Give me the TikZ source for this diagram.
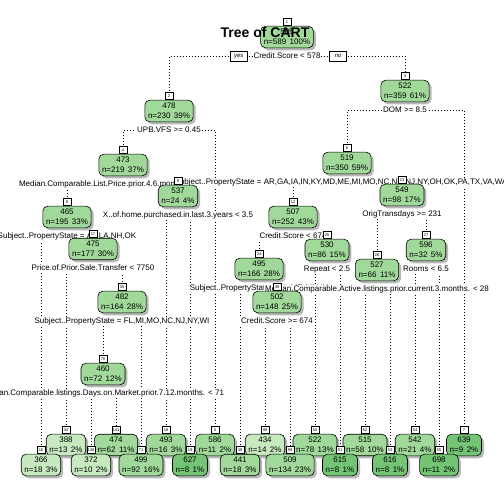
\documentclass[tikz,border=0pt]{standalone}
\usepackage{fontspec}
\setmainfont{Liberation Sans}
\usetikzlibrary{positioning,shadows}
\pgfdeclarelayer{branches}
\pgfdeclarelayer{splits}
\pgfsetlayers{branches,splits,main}
\definecolor{glow}{HTML}{C7E9C0}
\definecolor{gmid}{HTML}{A1D99B}
\definecolor{ghigh}{HTML}{74C476}

\begin{document}
\begin{tikzpicture}[x=1pt,y=-1pt,
         nodebox/.style = {draw,line width=0.6pt,rounded corners=5pt,align=center,
            font=\fontsize{8}{10}\selectfont,inner xsep=3.2pt,inner ysep=3pt,
            drop shadow={shadow xshift=2.5pt,shadow yshift=-2.5pt,fill=black!28,opacity=1}},
         split/.style = {fill=white,inner sep=0.8pt,text height=6pt,text depth=1.5pt,
            font=\fontsize{8}{9}\selectfont},
         numlab/.style = {draw,fill=white,line width=0.5pt,inner sep=0.8pt,
            minimum width=8pt,minimum height=7pt,font=\fontsize{4}{4}\selectfont},
         yesno/.style = {draw,fill=white,line width=0.5pt,minimum width=17pt,
            minimum height=10.5pt,inner sep=1pt,font=\fontsize{6}{6}\selectfont\itshape},
         branch/.style = {line width=0.8pt,dash pattern=on 0.8pt off 2.2pt}
]
         \useasboundingbox (0,0) rectangle (504,504);

         % internal nodes
         \foreach \k/\x/\y/\v/\n/\p/\c in {1/287/37/505/589/100/gmid,
            2/169/111/478/230/39/gmid, 3/405/91/522/359/61/gmid,
            4/123/165/473/219/37/gmid, 9/178/196/537/24/4/gmid,
            8/67/217/465/195/33/gmid, 17/93/249/475/177/30/gmid,
            35/122/302/482/164/28/gmid, 70/103/374/460/72/12/gmid,
            6/347/163/519/350/59/gmid, 13/402/195/549/98/17/gmid,
            12/293/217/507/252/43/gmid, 25/327/250/530/86/15/gmid,
            27/426/250/596/32/5/gmid, 24/259/269/495/166/28/gmid,
            26/377/270/527/66/11/gmid, 49/277/302/502/148/25/gmid}
            \node[nodebox,fill=\c] (n\k) at (\x,\y) {\v\\n=\n\hspace{3.5pt}\p\%};

         % leaves, upper row then lower row
         \foreach \k/\x/\y/\v/\n/\p/\c in {34/66/445/388/13/2/glow,
            141/116/445/474/62/11/gmid, 18/166/445/493/16/3/gmid,
            5/215/445/586/11/2/gmid, 98/265/445/434/14/2/glow,
            50/315/445/522/78/13/gmid, 52/365/445/515/58/10/gmid,
            54/415/445/542/21/4/gmid, 7/464/445/639/9/2/ghigh,
            16/41/465/366/18/3/glow, 140/91/465/372/10/2/glow,
            71/141/465/499/92/16/gmid, 19/190/465/627/8/1/ghigh,
            48/240/465/441/18/3/gmid, 99/290/465/509/134/23/gmid,
            51/340/465/615/8/1/ghigh, 53/390/465/616/8/1/ghigh,
            55/439/465/698/11/2/ghigh}
            \node[nodebox,fill=\c] (n\k) at (\x,\y) {\v\\n=\n\hspace{3.5pt}\p\%};

         % node numbers
         \foreach \k in {1,2,3,4,5,6,7,8,9,12,13,16,17,18,19,24,25,26,27,34,35,
            48,49,50,51,52,53,54,55,70,71,98,99,140,141}
            \node[numlab,above=0pt of n\k] (k\k) {\k};

         % split labels
         \begin{pgfonlayer}{splits}
         \foreach \k/\txt in {1/{Credit.Score < 578}, 2/{UPB.VFS >= 0.45},
            3/{DOM >= 8.5},
            4/{Median.Comparable.List.Price.prior.4.6.months. < 2.4e+05},
            6/{Subject..PropertyState = AR,GA,IA,IN,KY,MD,ME,MI,MO,NC,NH,NJ,NY,OH,OK,PA,TX,VA,WA,WI},
            9/{X..of.home.purchased.in.last.3.years < 3.5},
            8/{Subject..PropertyState = AL,LA,NH,OK},
            13/{OrigTransdays >= 231}, 12/{Credit.Score < 674},
            17/{Price.of.Prior.Sale.Transfer < 7750},
            25/{Repeat < 2.5}, 27/{Rooms < 6.5},
            24/{Subject..PropertyState = AL,MD,MI,NH},
            26/{Median.Comparable.Active.listings.prior.current.3.months. < 28},
            35/{Subject..PropertyState = FL,MI,MO,NC,NJ,NY,WI},
            49/{Credit.Score >= 674},
            70/{Median.Comparable.listings.Days.on.Market.prior.7.12.months. < 71}}
            \node[split,below=3.5pt of n\k] (s\k) {\txt};
         \node[yesno,left=5pt of s1]  (yes) {yes};
         \node[yesno,right=8pt of s1] (no)  {no};
         \end{pgfonlayer}

         % branches
         \begin{pgfonlayer}{branches}
         \foreach \l/\p/\r in {2/1/3, 4/2/5, 6/3/7, 8/4/9, 16/8/17, 34/17/35,
            70/35/71, 140/70/141, 18/9/19, 12/6/13, 24/12/25, 48/24/49,
            98/49/99, 50/25/51, 26/13/27, 52/26/53, 54/27/55}
            \draw[branch] (n\l) |- (s\p.center) -| (n\r);
         \end{pgfonlayer}

         \node[font=\fontsize{14}{14}\selectfont\bfseries] (title) at (265,32) {Tree of CART};
\end{tikzpicture}
\end{document}
